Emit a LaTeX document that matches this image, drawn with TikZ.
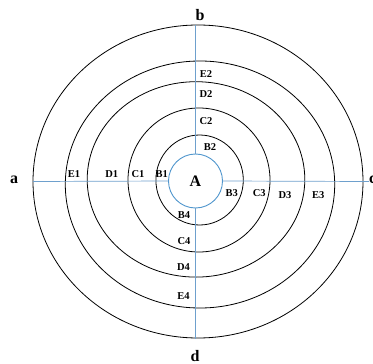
\documentclass[tikz,border=0pt]{standalone}
\usepackage{fontspec}
\setmainfont{Liberation Serif}
\usepackage{xcolor}
\definecolor{axisblue}{RGB}{110,160,205}
\definecolor{ringblue}{RGB}{80,150,205}

\begin{document}
\begin{tikzpicture}[
  x=1pt, y=-1pt,
  ring/.style={draw=black, line width=0.8pt},
  axis/.style={draw=axisblue, line width=0.7pt},
  zone/.style={font=\bfseries\fontsize{10.5}{11}\selectfont, inner sep=0pt},
  pole/.style={font=\bfseries\fontsize{16}{17}\selectfont, inner sep=0pt}
]
\useasboundingbox (0,0) rectangle (373,364);
% rings
\draw[ring] (198,181.5) ellipse [x radius=165pt, y radius=156.5pt];
\draw[ring] (200,184.5) ellipse [x radius=134.7pt, y radius=123.5pt];
\draw[ring] (196,179.4) ellipse [x radius=108.8pt, y radius=97.7pt];
\draw[ring] (199,180) ellipse [x radius=71pt, y radius=72pt];
\draw[ring] (199.6,180) ellipse [x radius=43.7pt, y radius=45pt];
\node[circle, draw=ringblue, line width=0.9pt, minimum size=54pt,
      pole] (A) at (195.5,181) {A};
% axes
\coordinate (west) at (33,181.5);
\coordinate (east) at (369,181.5);
\coordinate (north) at (195.5,25);
\coordinate (south) at (195.5,339);
\draw[axis] (west) -- (A.west);
\draw[axis] (A.east) -- (east);
\draw[axis] (north) -- (A.north);
\draw[axis] (A.south) -- (south);
\node[pole] (a) at (14,180) {a};
\node[pole] (b) at (200,15) {b};
\node[pole, anchor=west] (c) at (369,180) {c};
\node[pole] (d) at (195,356) {d};
% zone labels
\node[zone] (E1) at (74,174) {E1};
\node[zone] (D1) at (111.7,174) {D1};
\node[zone] (C1) at (138,174) {C1};
\node[zone] (B1) at (161.7,174) {B1};
\node[zone] (E2) at (206,74) {E2};
\node[zone] (D2) at (206,94) {D2};
\node[zone] (C2) at (206,121) {C2};
\node[zone] (B2) at (210,147) {B2};
\node[zone] (B3) at (231.7,193) {B3};
\node[zone] (C3) at (259.3,193) {C3};
\node[zone] (D3) at (285,195) {D3};
\node[zone] (E3) at (318.3,195) {E3};
\node[zone] (B4) at (184,215) {B4};
\node[zone] (C4) at (184,240.7) {C4};
\node[zone] (D4) at (183.5,266.7) {D4};
\node[zone] (E4) at (183.5,295.7) {E4};
\end{tikzpicture}
\end{document}
